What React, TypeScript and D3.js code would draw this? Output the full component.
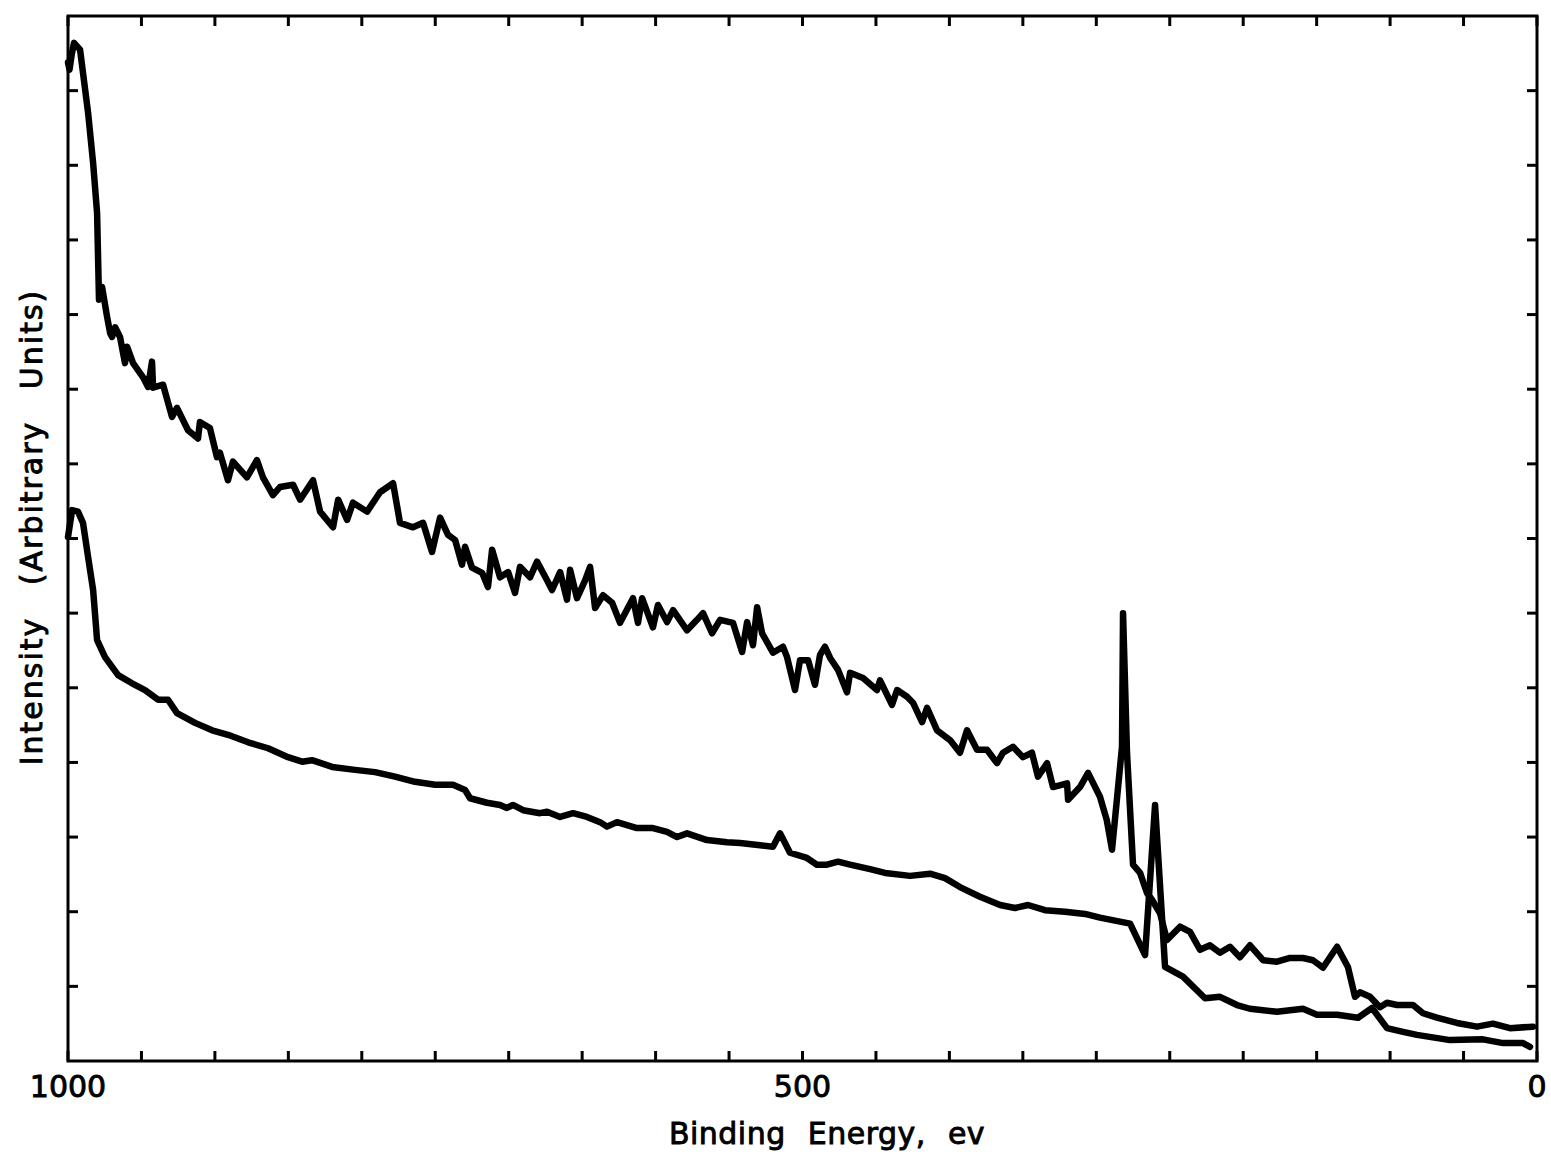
import React from "react";
import * as d3 from "d3";

// Upper spectrum: [binding energy (eV), intensity (arbitrary units)]
const upperSpectrum: [number, number][] = [
  [1000, 13.38], [999, 13.28], [997.5, 13.48], [995.9, 13.64], [991.8, 13.55],
  [986.3, 12.7], [982.9, 12.03], [980.2, 11.36], [978.9, 10.2], [976.8, 10.37],
  [973.4, 9.97], [971.3, 9.75], [970.0, 9.7], [967.9, 9.83], [964.6, 9.7],
  [961.2, 9.35], [959.8, 9.57], [955.7, 9.35], [948.9, 9.16], [945.5, 9.03],
  [942.8, 9.37], [942.1, 9.02], [935.3, 9.06], [929.2, 8.63], [925.8, 8.75],
  [918.3, 8.45], [911.5, 8.34], [910.2, 8.56], [903.4, 8.48], [898.6, 8.09],
  [896.6, 8.15], [891.1, 7.78], [887.7, 8.03], [878.2, 7.82], [871.4, 8.05],
  [867.3, 7.82], [860.5, 7.58], [855.7, 7.69], [846.8, 7.72], [842.0, 7.52],
  [833.2, 7.78], [828.4, 7.36], [819.6, 7.15], [816.1, 7.52], [810.0, 7.25],
  [806.0, 7.48], [796.4, 7.36], [787.6, 7.62], [778.7, 7.74], [774.0, 7.21],
  [765.1, 7.15], [758.3, 7.21], [752.2, 6.82], [746.7, 7.28], [741.3, 7.05],
  [736.5, 6.98], [731.8, 6.65], [729.7, 6.89], [725.0, 6.61], [718.1, 6.54],
  [714.1, 6.35], [711.3, 6.85], [705.9, 6.48], [700.4, 6.55], [695.7, 6.27],
  [692.3, 6.62], [685.5, 6.48], [680.7, 6.69], [673.9, 6.44], [670.5, 6.31],
  [665.0, 6.55], [660.3, 6.18], [658.2, 6.58], [653.5, 6.2], [648.0, 6.44],
  [644.6, 6.62], [641.2, 6.07], [635.8, 6.24], [629.6, 6.14], [624.2, 5.87],
  [615.4, 6.2], [612.0, 5.87], [609.2, 6.2], [601.8, 5.81], [598.4, 6.11],
  [592.2, 5.88], [588.1, 6.04], [578.6, 5.77], [571.8, 5.91], [567.7, 6.0],
  [561.6, 5.73], [556.1, 5.91], [547.3, 5.87], [541.1, 5.48], [537.7, 5.88],
  [533.7, 5.57], [530.9, 6.08], [527.5, 5.73], [520.1, 5.47], [513.3, 5.55],
  [510.5, 5.41], [505.1, 4.97], [501.7, 5.37], [496.2, 5.37], [491.5, 5.04],
  [488.1, 5.44], [484.7, 5.55], [481.2, 5.4], [475.8, 5.24], [469.7, 4.94],
  [467.6, 5.2], [458.8, 5.13], [449.3, 4.97], [447.2, 5.1], [439.1, 4.77],
  [435.6, 4.97], [428.8, 4.88], [424.8, 4.8], [418.6, 4.54], [415.2, 4.73],
  [408.4, 4.43], [399.6, 4.3], [392.8, 4.13], [388.0, 4.43], [381.2, 4.17],
  [374.4, 4.17], [367.6, 3.99], [363.5, 4.13], [356.7, 4.21], [349.9, 4.07],
  [343.8, 4.13], [339.7, 3.81], [333.5, 3.99], [329.5, 3.67], [319.9, 3.72],
  [319.2, 3.5], [311.1, 3.67], [305.6, 3.86], [297.5, 3.54], [292.9, 3.23],
  [289.3, 2.83], [282.5, 4.21], [281.8, 6.0], [279.1, 4.13], [275.0, 2.63],
  [270.2, 2.52], [265.5, 2.25], [262.1, 2.16], [256.6, 1.98], [251.9, 1.62],
  [243.0, 1.8], [236.2, 1.73], [229.4, 1.49], [222.6, 1.55], [215.8, 1.45],
  [209.0, 1.53], [202.2, 1.39], [195.4, 1.55], [186.5, 1.35], [177.0, 1.33],
  [168.1, 1.38], [159.3, 1.38], [152.5, 1.35], [145.7, 1.25], [136.1, 1.53],
  [128.7, 1.26], [123.9, 0.86], [120.5, 0.92], [113.7, 0.86], [106.9, 0.72],
  [102.1, 0.78], [95.3, 0.75], [84.4, 0.75], [77.6, 0.64], [68.1, 0.58],
  [54.5, 0.51], [40.8, 0.46], [30.0, 0.5], [18.4, 0.44], [2.7, 0.46],
];

// Lower spectrum: [binding energy (eV), intensity (arbitrary units)]
const lowerSpectrum: [number, number][] = [
  [1000, 7.02], [997.2, 7.38], [993.2, 7.36], [989.8, 7.21], [986.3, 6.75],
  [982.9, 6.31], [980.2, 5.64], [974.8, 5.41], [965.9, 5.17], [956.4, 5.06],
  [947.6, 4.97], [938.7, 4.84], [931.9, 4.84], [925.8, 4.66], [913.5, 4.53],
  [901.9, 4.43], [891.1, 4.37], [877.4, 4.27], [863.8, 4.19], [850.2, 4.07],
  [840.7, 4.01], [833.9, 4.03], [820.2, 3.94], [804.6, 3.9], [791.0, 3.87],
  [777.4, 3.81], [763.8, 3.74], [750.1, 3.7], [737.9, 3.7], [729.7, 3.63],
  [726.3, 3.52], [714.8, 3.46], [705.9, 3.43], [701.2, 3.39], [697.1, 3.43],
  [690.2, 3.36], [678.7, 3.32], [673.9, 3.34], [665.0, 3.27], [656.2, 3.32],
  [646.7, 3.27], [637.8, 3.2], [633.1, 3.14], [626.3, 3.2], [612.7, 3.12],
  [601.8, 3.12], [592.2, 3.07], [585.4, 3.0], [578.6, 3.05], [565.0, 2.96],
  [551.4, 2.93], [542.5, 2.92], [528.9, 2.89], [520.1, 2.87], [515.3, 3.05],
  [508.5, 2.79], [497.0, 2.72], [490.2, 2.63], [483.3, 2.63], [475.8, 2.67],
  [467.6, 2.63], [454.0, 2.57], [443.8, 2.52], [426.8, 2.48], [413.2, 2.51],
  [403.0, 2.45], [392.8, 2.33], [379.2, 2.2], [365.5, 2.09], [355.3, 2.05],
  [346.5, 2.09], [334.9, 2.02], [321.3, 2.0], [307.7, 1.97], [297.5, 1.92],
  [287.3, 1.88], [277.0, 1.84], [266.8, 1.42], [260.0, 3.43], [254.6, 1.71],
  [253.2, 1.26], [241.0, 1.13], [226.0, 0.84], [215.8, 0.86], [204.2, 0.75],
  [195.4, 0.7], [177.0, 0.66], [159.3, 0.7], [149.8, 0.62], [136.1, 0.62],
  [121.8, 0.58], [112.3, 0.71], [102.1, 0.44], [91.2, 0.39], [81.7, 0.35],
  [59.2, 0.28], [36.8, 0.29], [23.1, 0.24], [9.5, 0.24], [4.8, 0.19],
];

const xTickValues = d3.range(0, 1001, 50);
const xTickLabels = [1000, 500, 0];
const yTickValues = d3.range(1, 14);

const FONT = "'DejaVu Sans', sans-serif";

export default function App() {
  const W = 1551;
  const H = 1166;
  const left = 68, right = 1537, top = 16, bottom = 1061;
  const x = d3.scaleLinear().domain([1000, 0]).range([left, right]);
  const y = d3.scaleLinear().domain([0, 14]).range([bottom, top]);
  const line = d3
    .line<[number, number]>()
    .x((d) => x(d[0]))
    .y((d) => y(d[1]));
  const tickLen = 10;
  const textStyle = {
    fontFamily: FONT,
    fontSize: 30,
    fill: "#000",
    stroke: "#000",
    strokeWidth: 0.9,
  } as const;

  return (
    <svg
      width={W}
      height={H}
      style={{ position: "absolute", left: 0, top: 0, background: "#fff" }}
    >
      <rect x={0} y={0} width={W} height={H} fill="#fff" />
      <rect
        x={left}
        y={top}
        width={right - left}
        height={bottom - top}
        fill="none"
        stroke="#000"
        strokeWidth={3}
      />
      {xTickValues.map((v) => (
        <g key={"xt" + v}>
          <line x1={x(v)} x2={x(v)} y1={bottom} y2={bottom - tickLen} stroke="#000" strokeWidth={3} />
          <line x1={x(v)} x2={x(v)} y1={top} y2={top + tickLen} stroke="#000" strokeWidth={3} />
        </g>
      ))}
      {yTickValues.map((v) => (
        <g key={"yt" + v}>
          <line x1={left} x2={left + tickLen} y1={y(v)} y2={y(v)} stroke="#000" strokeWidth={3} />
          <line x1={right} x2={right - tickLen} y1={y(v)} y2={y(v)} stroke="#000" strokeWidth={3} />
        </g>
      ))}
      {xTickLabels.map((v) => (
        <text key={"xl" + v} x={x(v)} y={1097} textAnchor="middle" {...textStyle}>
          {v}
        </text>
      ))}
      <text
        x={827}
        y={1144}
        textAnchor="middle"
        letterSpacing={0.5}
        wordSpacing={12}
        {...textStyle}
      >
        Binding Energy, ev
      </text>
      <text
        transform="translate(42,527) rotate(-90)"
        textAnchor="middle"
        letterSpacing={2}
        wordSpacing={20}
        {...textStyle}
      >
        Intensity (Arbitrary Units)
      </text>
      <path
        d={line(upperSpectrum) || ""}
        fill="none"
        stroke="#000"
        strokeWidth={6.5}
        strokeLinejoin="round"
        strokeLinecap="round"
      />
      <path
        d={line(lowerSpectrum) || ""}
        fill="none"
        stroke="#000"
        strokeWidth={6.5}
        strokeLinejoin="round"
        strokeLinecap="round"
      />
    </svg>
  );
}
